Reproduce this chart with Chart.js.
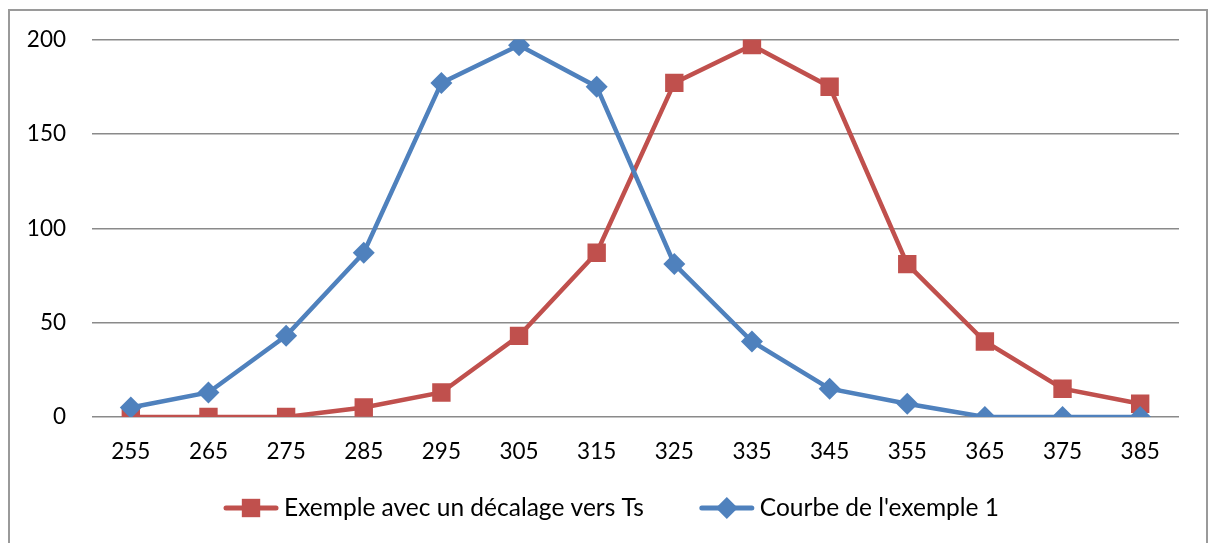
<!DOCTYPE html>
<html>
<head>
<meta charset="utf-8">
<script src="https://cdn.jsdelivr.net/npm/chart.js@4"></script>
<style>
    body { margin: 0; background: #fff; }
    #wrap { position: relative; width: 1208px; height: 543px; }
    #frame { position: absolute; left: 8px; top: 9px; width: 1196px; height: 540px; border: 2px solid #9a9a9a; }
    canvas { position: absolute; left: 0; top: 0; }
</style>
</head>
<body>
<div id="wrap">
    <div id="frame"></div>
    <canvas id="c1" width="1208" height="543"></canvas>
</div>
<script>
// données
var categories = ["255", "265", "275", "285", "295", "305", "315", "325", "335", "345", "355", "365", "375", "385"];
var decalage = [0, 0, 0, 5, 13, 43, 87, 177, 197, 175, 81, 40, 15, 7];
var exemple1 = [5, 13, 43, 87, 177, 197, 175, 81, 40, 15, 7, 0, 0, 0];
var yTicks = [0, 50, 100, 150, 200];
var serieNames = ["Exemple avec un décalage vers Ts", "Courbe de l'exemple 1"];

var RED = "#C0504D";
var BLUE = "#4F81BD";
var FONT = "Lato, 'Open Sans', sans-serif";

// légende dessinée à la main (ligne + marqueur)
var legendPlugin = {
    id: 'lineLegend',
    afterDraw: function(chart) {
        var ctx = chart.ctx;
        ctx.save();
        ctx.font = "24.5px " + FONT;
        ctx.textBaseline = "middle";
        var items = [
            { text: serieNames[0], color: RED, style: 'rect', r: 13 },
            { text: serieNames[1], color: BLUE, style: 'rectRot', r: 11 }
        ];
        var lineW = 56, gap = 5, spacing = 55;
        var total = 0;
        items.forEach(function(it, i) {
            it.w = lineW + gap + ctx.measureText(it.text).width;
            total += it.w + (i > 0 ? spacing : 0);
        });
        var x = 611 - total / 2;
        var y = 508;
        items.forEach(function(it) {
            ctx.strokeStyle = it.color;
            ctx.lineWidth = 5;
            ctx.lineCap = "round";
            ctx.beginPath();
            ctx.moveTo(x + 3, y);
            ctx.lineTo(x + lineW - 3, y);
            ctx.stroke();
            ctx.fillStyle = it.color;
            Chart.helpers.drawPoint(ctx, { pointStyle: it.style, radius: it.r, borderWidth: 0 }, x + lineW / 2, y);
            ctx.fillStyle = "#000";
            ctx.fillText(it.text, x + lineW + gap, y);
            x += it.w + spacing;
        });
        ctx.restore();
    }
};

var chart = new Chart(document.getElementById("c1"), {
    type: 'line',
    data: {
        labels: categories,
        datasets: [
            {
                label: serieNames[0],
                data: decalage,
                order: 1,
                borderColor: RED,
                backgroundColor: RED,
                borderWidth: 4.5,
                pointStyle: 'rect',
                pointRadius: 13,
                pointHoverRadius: 13,
                pointBorderWidth: 0,
                tension: 0
            },
            {
                label: serieNames[1],
                data: exemple1,
                order: 0, // la courbe bleue passe devant
                borderColor: BLUE,
                backgroundColor: BLUE,
                borderWidth: 4.5,
                pointStyle: 'rectRot',
                pointRadius: 11,
                pointHoverRadius: 11,
                pointBorderWidth: 0,
                tension: 0
            }
        ]
    },
    options: {
        responsive: false,
        animation: false,
        layout: { padding: { top: 38, right: 29, bottom: 66, left: 0 } },
        plugins: {
            legend: { display: false },
            tooltip: { enabled: false }
        },
        scales: {
            x: {
                offset: true,
                grid: { display: false, drawTicks: false },
                border: { display: false },
                ticks: { color: "#000", font: { family: FONT, size: 22.5 }, padding: 21, maxRotation: 0 },
                afterFit: function(s) { s.height = 60; }
            },
            y: {
                min: 0,
                max: 200,
                afterBuildTicks: function(s) { s.ticks = yTicks.map(function(v) { return { value: v }; }); },
                grid: { color: "#8a8a8a", lineWidth: 1.5, drawTicks: false },
                border: { display: false },
                ticks: { color: "#000", font: { family: FONT, size: 22.5 }, padding: 26 },
                afterFit: function(s) { s.width = 92; }
            }
        }
    },
    plugins: [legendPlugin]
});
</script>
</body>
</html>
